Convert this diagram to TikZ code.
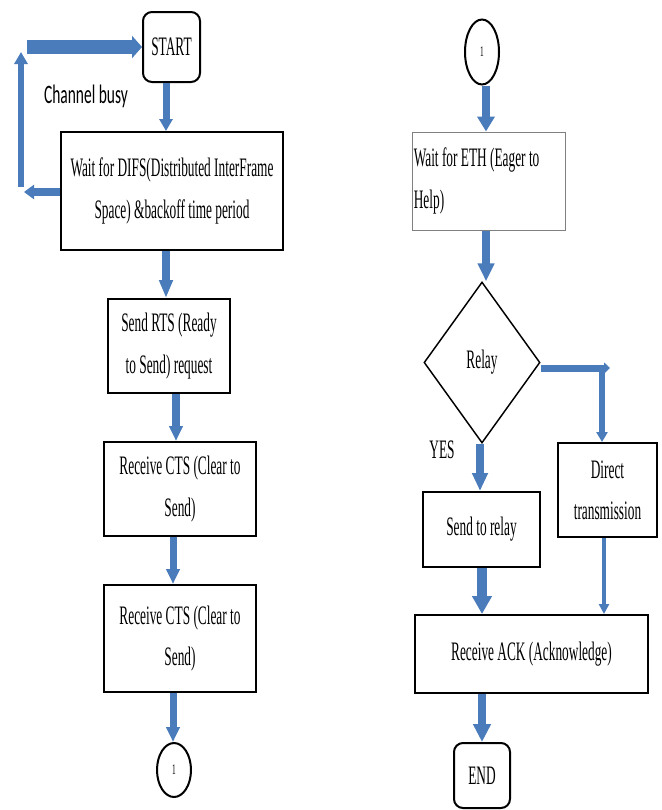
\documentclass[tikz,border=0pt]{standalone}
\usepackage{fontspec}
\newfontfamily\tnrfam[FakeStretch=0.5]{Liberation Serif}
\newfontfamily\calfam[FakeStretch=0.58]{Carlito}
\usetikzlibrary{arrows.meta,calc,shapes.geometric}
\definecolor{ablue}{HTML}{4A7BBA}
\begin{document}
\begin{tikzpicture}[x=0.75pt,y=-0.75pt,
 box/.style={draw=black, line width=1.5pt, inner sep=0pt, align=center, font=\tnrfam\fontsize{20}{31}\selectfont},
 rbox/.style={box, rounded corners=6.75pt},
 conn/.style={draw=black, line width=1.5pt, ellipse, inner sep=0pt, font=\tnrfam\fontsize{11}{12}\selectfont},
 arr/.style n args={3}{draw=ablue, line width=#1, -{Triangle[width=#2,length=#3]}},
 lbl/.style={inner sep=0pt, font=\tnrfam\fontsize{20}{31}\selectfont}]
\useasboundingbox (0,0) rectangle (661,810);

% left column
\node[rbox, minimum width=42.75pt, minimum height=52.5pt] (start) at (171.5,47) {START};
\node[box, minimum width=166.5pt, minimum height=88.5pt] (difs) at (172,191) {Wait for DIFS(Distributed InterFrame\\Space) \&backoff time period};
\node[box, minimum width=91.5pt, minimum height=70.5pt] (rts) at (169,346) {Send RTS (Ready\\to Send) request};
\node[box, minimum width=114pt, minimum height=70.5pt] (cts1) at (180,489) {Receive CTS (Clear to\\Send)};
\node[box, minimum width=114pt, minimum height=80.25pt] (cts2) at (180,638.5) {Receive CTS (Clear to\\Send)};
\node[conn, minimum width=25.5pt, minimum height=40.5pt] (c1) at (174,770) {1};
\node[anchor=base, inner sep=0pt, font=\calfam\fontsize{20}{24}\selectfont] (busy) at (86,103) {Channel busy};

% right column
\node[conn, minimum width=25.5pt, minimum height=48.75pt] (c2) at (482,52) {1};
\node[box, draw=gray, line width=0.75pt, align=flush left, text width=112pt, minimum width=114.75pt, minimum height=73.5pt] (eth) at (488.5,181) {Wait for ETH (Eager to\\Help)};
\node[diamond, draw=black, line width=1.1pt, inner sep=0pt, minimum width=87pt, minimum height=120.75pt, font=\tnrfam\fontsize{20}{31}\selectfont] (relay) at (482,362.5) {Relay};
\node[lbl] (yes) at (442,450) {YES};
\node[box, minimum width=87.75pt, minimum height=56.25pt] (str) at (481.5,529.5) {Send to relay};
\node[box, minimum width=74.25pt, minimum height=70.5pt] (dir) at (607.5,490) {Direct\\transmission};
\node[box, minimum width=174.75pt, minimum height=58.5pt] (ack) at (531.5,654) {Receive ACK (Acknowledge)};
\node[rbox, minimum width=42pt, minimum height=48.75pt] (end) at (482,775.5) {END};

% connector coordinates
\coordinate (a1) at ($(start.south)+(-5.5,0)$);
\coordinate (a2) at ($(difs.south)+(-6,0)$);
\coordinate (a3) at ($(rts.south)+(7,0)$);
\coordinate (a4) at ($(cts1.south)+(-7,0)$);
\coordinate (a5) at ($(cts2.south)+(-7,0)$);
\coordinate (b1) at ($(difs.west)+(0,1)$);
\coordinate (b2) at ($(difs.west)+(-36,1)$);
\coordinate (b3) at ($(difs.west)+(-39,-4)$);
\coordinate (b4) at ($(start.west)+(-121,5)$);
\coordinate (b5) at ($(start.west)+(-115,0)$);
\coordinate (r1) at ($(c2.south)+(4,0)$);
\coordinate (r2) at ($(eth.south)+(-2.5,0)$);
\coordinate (r3) at ($(relay.east)+(0,5.5)$);
\coordinate (hx) at ($(dir.north)+(2.5,0)$);
\coordinate (vx) at ($(dir.north)+(-5.5,0)$);
\coordinate (r5) at ($(relay.south)+(-2,0)$);
\coordinate (r6) at ($(str.south)+(0.5,0)$);
\coordinate (r7) at ($(dir.south)+(-3.5,0)$);

% left connectors
\draw[arr={5.25pt}{9.75pt}{9pt}] (a1) -- (a1 |- difs.north);
\draw[arr={6pt}{9.75pt}{13.5pt}] (a2) -- (a2 |- rts.north);
\draw[arr={6pt}{9.75pt}{11.25pt}] (a3) -- (a3 |- cts1.north);
\draw[arr={5.25pt}{9.75pt}{11.25pt}] (a4) -- (a4 |- cts2.north);
\draw[arr={5.25pt}{9.75pt}{11.25pt}] (a5) -- (a5 |- c1.north);
\draw[arr={6pt}{10.5pt}{7.5pt}] (b1) -- (b2);
\draw[arr={4.5pt}{9.75pt}{9pt}] (b3) -- (b4);
\draw[arr={10.5pt}{16.5pt}{7.5pt}] (b5) -- (start.west);

% right connectors
\draw[arr={6pt}{12.75pt}{11.25pt}] (r1) -- (r1 |- eth.north);
\draw[arr={6pt}{12pt}{13.5pt}] (r2) -- (r2 |- relay.north);
\draw[arr={5.25pt}{8.25pt}{4.5pt}] (r3) -- (r3 -| hx);
\draw[arr={4.5pt}{8.25pt}{7.5pt}] (vx |- r3) -- (vx);
\draw[arr={6pt}{11.25pt}{13.5pt}] (r5) -- (r5 |- str.north);
\draw[arr={7.5pt}{14.25pt}{13.5pt}] (r6) -- (r6 |- ack.north);
\draw[arr={3pt}{7.5pt}{7.5pt}] (r7) -- (r7 |- ack.north);
\draw[arr={6pt}{12.75pt}{13.5pt}] (end.north |- ack.south) -- (end.north);
\end{tikzpicture}
\end{document}
